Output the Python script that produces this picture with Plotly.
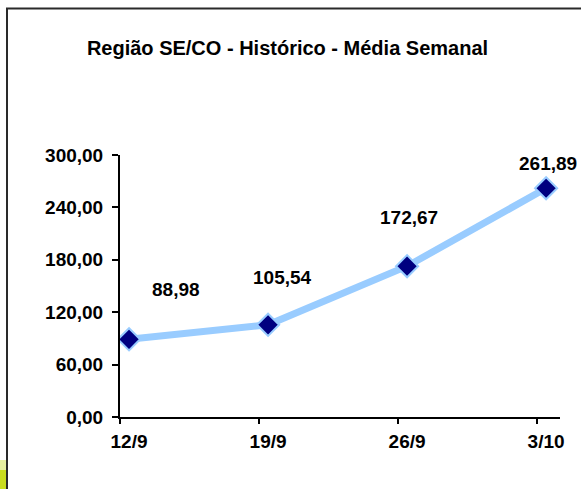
import plotly.graph_objects as go

categories = ["12/9", "19/9", "26/9", "3/10"]
values = [88.98, 105.54, 172.67, 261.89]
value_labels = ["88,98", "105,54", "172,67", "261,89"]
y_tickvals = [0, 60, 120, 180, 240, 300]
y_ticktext = ["0,00", "60,00", "120,00", "180,00", "240,00", "300,00"]
title_text = "Região SE/CO - Histórico - Média Semanal"

# style / layout constants
W, H = 581, 489
ML, MR, MT, MB = 120, 21, 155, 72
label_shift_x = [47, 14, 2, 2]
label_shift_y = [50, 47, 49, 25]
FONT = "Liberation Sans, Arial, sans-serif"

xs = list(range(len(categories)))

fig = go.Figure()
fig.add_trace(go.Scatter(
    x=xs, y=values, mode="lines+markers",
    line=dict(color="#99ccff", width=7),
    marker=dict(symbol="diamond", size=17, color="#000080",
                line=dict(color="#99ccff", width=2)),
    hoverinfo="skip", showlegend=False,
))

for i, (v, t) in enumerate(zip(values, value_labels)):
    fig.add_annotation(x=xs[i], y=v, text=t, showarrow=False,
                       xshift=label_shift_x[i], yshift=label_shift_y[i],
                       font=dict(family=FONT, size=19, color="black", weight="bold"))

pw = W - ML - MR
ph = H - MT - MB
def px2paper_x(p):
    return (p - ML) / pw
def px2paper_y(p):
    return (H - MB - p) / ph

# outer frame (extends past right/bottom edges)
fig.add_shape(type="rect", xref="paper", yref="paper",
              x0=px2paper_x(7), x1=px2paper_x(W + 20),
              y0=px2paper_y(H + 20), y1=px2paper_y(8.5),
              line=dict(color="#2a2a2a", width=2), layer="below")
# yellow-green corner decoration
fig.add_shape(type="rect", xref="paper", yref="paper",
              x0=px2paper_x(0), x1=px2paper_x(6),
              y0=px2paper_y(H), y1=px2paper_y(470),
              line=dict(width=0), fillcolor="#c9dc1e", layer="below")
fig.add_shape(type="rect", xref="paper", yref="paper",
              x0=px2paper_x(0), x1=px2paper_x(6),
              y0=px2paper_y(470), y1=px2paper_y(460),
              line=dict(width=0), fillcolor="#e6efa0", layer="below")

x_range = [-0.065, len(categories) - 1 + 0.1]

fig.update_layout(
    width=W, height=H,
    margin=dict(l=ML, r=MR, t=MT, b=MB),
    paper_bgcolor="white", plot_bgcolor="white",
    title=dict(text=title_text, x=287.5 / W, xref="container", xanchor="center",
               y=1 - 48 / H, yref="container", yanchor="middle",
               font=dict(family=FONT, size=20, color="black", weight="bold")),
    xaxis=dict(range=x_range, tickvals=xs, ticktext=categories,
               showgrid=False, zeroline=False, showline=True, linecolor="black",
               linewidth=2, ticks="", ticklabelstandoff=6,
               tickfont=dict(family=FONT, size=19, color="black", weight="bold")),
    xaxis2=dict(range=x_range, overlaying="x", matches="x",
                tickvals=[x - 0.065 for x in xs], showticklabels=False,
                ticks="outside", ticklen=6, tickwidth=2, tickcolor="black",
                showgrid=False, zeroline=False, side="bottom", anchor="y"),
    yaxis=dict(range=[0, 300], tickvals=y_tickvals, ticktext=y_ticktext,
               showgrid=False, zeroline=False, showline=True, linecolor="black",
               linewidth=2, ticks="outside", ticklen=6, tickwidth=2, tickcolor="black",
               ticklabelstandoff=5,
               tickfont=dict(family=FONT, size=19, color="black", weight="bold")),
)
# dummy trace to activate xaxis2
fig.add_trace(go.Scatter(x=[None], y=[None], xaxis="x2", showlegend=False, hoverinfo="skip"))

fig.write_html("out.html", config={"displayModeBar": False},
               post_script="document.body.style.margin='0';document.body.style.overflow='hidden';")
